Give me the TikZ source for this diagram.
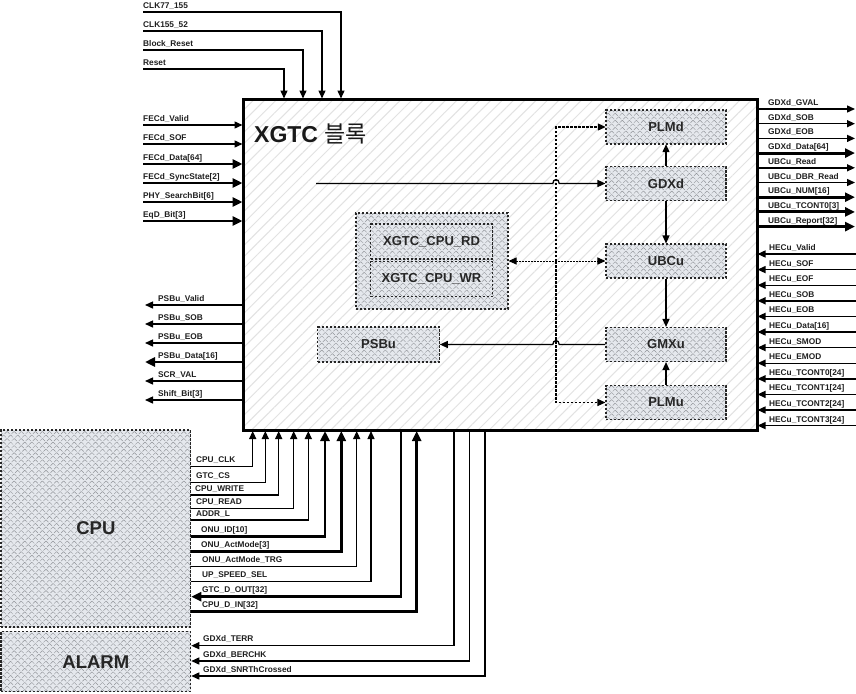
\documentclass[tikz,border=0pt]{standalone}
\usepackage{fontspec}
\setmainfont{Liberation Sans}
\newfontfamily\kr{Noto Sans CJK KR}
\usetikzlibrary{arrows.meta,patterns.meta,calc}
\definecolor{boxfill}{RGB}{229,232,237}
\definecolor{hatchc}{RGB}{145,148,153}
\definecolor{blkhatch}{RGB}{226,226,226}
\begin{document}
\begin{tikzpicture}[x=1pt,y=-1pt,
  sig/.style={line width=1.4pt,-{Triangle[length=8pt,width=7pt]}},
  bus/.style={line width=2.9pt,-{Triangle[length=10pt,width=9pt]}},
  lbl/.style={font=\fontsize{8.3}{9}\selectfont\bfseries,anchor=base west,inner sep=0pt,text=black!88},
  ubox/.style={draw=black!85,line width=1.1pt,dash pattern=on 2.4pt off 1.6pt,
    preaction={fill=boxfill},pattern={Hatch[angle=45,distance=5pt,line width=0.45pt]},
    pattern color=hatchc,font=\fontsize{13}{15}\selectfont\bfseries,text=black!85,inner sep=0pt},
  ia/.style={line width=1.3pt,-{Triangle[length=8pt,width=7pt]}},
  dl/.style={line width=1.1pt,dash pattern=on 2.5pt off 1.5pt,-{Triangle[length=8pt,width=7pt]}},
  dotl/.style={line width=1pt,dash pattern=on 1.5pt off 1.5pt,{Triangle[length=8pt,width=7pt]}-{Triangle[length=8pt,width=7pt]}}]
\useasboundingbox (0,0) rectangle (856,693);

% main block
\node[draw,line width=3pt,preaction={fill=white},
  pattern={Lines[angle=45,distance=8pt,line width=1pt]},pattern color=blkhatch,
  minimum width=514pt,minimum height=331.5pt,inner sep=0pt] (blk) at (500,264.75) {};
\node[anchor=west,font=\fontsize{23}{25}\selectfont\bfseries,text=black!90,inner sep=0pt] (title) at (254,134) {XGTC {\kr\mdseries 블록}};

% inner blocks
\node[ubox,minimum width=120pt,minimum height=34pt] (PLMd) at (666,127) {PLMd};
\node[ubox,minimum width=120pt,minimum height=34pt] (GDXd) at (666,183.5) {GDXd};
\node[ubox,minimum width=120pt,minimum height=34pt] (UBCu) at (666,261) {UBCu};
\node[ubox,minimum width=120pt,minimum height=34pt] (GMXu) at (666,344.5) {GMXu};
\node[ubox,minimum width=120pt,minimum height=34pt] (PLMu) at (666,402.5) {PLMu};
\node[ubox,minimum width=121.6pt,minimum height=35pt] (PSBu) at (378.5,344.5) {PSBu};
\node[ubox,minimum width=152pt,minimum height=96pt] (grp) at (432,261) {};
\node[ubox,minimum width=121.6pt,minimum height=35pt] (RD) at (431.5,241.5) {XGTC\_CPU\_RD};
\node[ubox,minimum width=121.6pt,minimum height=35pt] (WR) at (431.5,279.2) {XGTC\_CPU\_WR};

% inner connectors
\coordinate (vj) at (556,261);
\coordinate (gin) at (316,183.5);
\draw[dl] (vj) |- (PLMd);
\draw[dl] (vj) |- (PLMu);
\draw[dotl] (grp) -- (UBCu);
\draw[ia] (gin) -- (552.8,183.5) .. controls (552.8,178.3) and (559.2,178.3) .. (559.2,183.5) -- (GDXd);
\draw[ia] (GMXu) -- (559.2,344.5) .. controls (559.2,339.3) and (552.8,339.3) .. (552.8,344.5) -- (PSBu);
\draw[ia] (GDXd) -- (PLMd);
\draw[ia] (GDXd) -- (UBCu);
\draw[ia] (UBCu) -- (GMXu);
\draw[ia] (PLMu) -- (GMXu);

% top inputs
\foreach \n/\y/\x/\t in {a/12/341/CLK77\_155,b/31/322/CLK155\_52,c/50/303/Block\_Reset,d/69/284/Reset}{
  \coordinate (top\n) at (143,\y);
  \node[lbl] (toplbl\n) at (143,\y-3.5) {\t};
  \draw[sig] (top\n) -| (blk.north -| \x,0);
}

% left inputs
\foreach \n/\y/\st/\t in {a/125/sig/FECd\_Valid,b/144/sig/FECd\_SOF,c/164/bus/FECd\_Data[64],
  d/183/bus/FECd\_SyncState[2],e/202/bus/PHY\_SearchBit[6],f/221/bus/EqD\_Bit[3]}{
  \coordinate (fin\n) at (143,\y);
  \node[lbl] (finlbl\n) at (143,\y-4) {\t};
  \draw[\st] (fin\n) -- (blk.west |- fin\n);
}

% left outputs
\foreach \n/\y/\st/\t in {a/305/sig/PSBu\_Valid,b/324/sig/PSBu\_SOB,c/343/sig/PSBu\_EOB,
  d/362/bus/PSBu\_Data[16],e/381/sig/SCR\_VAL,f/400/sig/Shift\_Bit[3]}{
  \coordinate (pso\n) at (145,\y);
  \node[lbl] (psolbl\n) at (158,\y-3.5) {\t};
  \draw[\st] (blk.west |- pso\n) -- (pso\n);
}

% right outputs
\foreach \n/\y/\st/\t in {a/109/sig/GDXd\_GVAL,b/123.7/sig/GDXd\_SOB,c/138.4/sig/GDXd\_EOB,
  d/153.1/bus/GDXd\_Data[64],e/167.8/sig/UBCu\_Read,f/182.5/sig/UBCu\_DBR\_Read,
  g/197.2/bus/UBCu\_NUM[16],h/211.9/bus/UBCu\_TCONT0[3],i/226.6/bus/UBCu\_Report[32]}{
  \coordinate (gdo\n) at (855,\y);
  \node[lbl] (gdolbl\n) at (768,\y-3.5) {\t};
  \draw[\st] (blk.east |- gdo\n) -- (gdo\n);
}

% right inputs
\foreach \n/\y/\t in {a/254/HECu\_Valid,b/269.6/HECu\_SOF,c/285.2/HECu\_EOF,d/300.8/HECu\_SOB,
  e/316.4/HECu\_EOB,f/332/HECu\_Data[16],g/347.6/HECu\_SMOD,h/363.2/HECu\_EMOD,
  i/378.8/HECu\_TCONT0[24],j/394.4/HECu\_TCONT1[24],k/410/HECu\_TCONT2[24],l/425.6/HECu\_TCONT3[24]}{
  \coordinate (hei\n) at (856,\y);
  \node[lbl] (heilbl\n) at (769,\y-3.5) {\t};
  \draw[sig] (hei\n) -- (blk.east |- hei\n);
}

% CPU and ALARM
\node[ubox,minimum width=189.7pt,minimum height=197pt,font=\fontsize{18.5}{20}\selectfont\bfseries] (cpu) at (95.85,528.5) {CPU};
\node[ubox,minimum width=189.7pt,minimum height=60pt,font=\fontsize{18.5}{20}\selectfont\bfseries] (alarm) at (95.85,661.7) {ALARM};

\foreach \n/\y/\x/\st/\lx/\t in {a/466.7/252.7/sig/196/CPU\_CLK,b/482.7/265.3/sig/196/GTC\_CS,
  c/495/278.7/sig/195/CPU\_WRITE,d/508.3/293.7/sig/196/CPU\_READ,e/520/308.3/sig/196/ADDR\_L,
  f/536.7/325/bus/201/ONU\_ID[10],g/551.7/341.3/bus/201/ONU\_ActMode[3],
  h/566.7/356.7/sig/202/ONU\_ActMode\_TRG,i/581.7/371/sig/202/UP\_SPEED\_SEL,
  k/611.7/416.7/bus/202/CPU\_D\_IN[32]}{
  \node[lbl] (cpulbl\n) at (\lx,\y-4) {\t};
  \draw[\st] (cpu.east |- 0,\y) -| (blk.south -| \x,0);
}
\node[lbl] (cpulblj) at (202,596.7-4.5) {GTC\_D\_OUT[32]};
\draw[bus] (blk.south -| 401,0) |- (cpu.east |- 0,596.7);

\foreach \n/\y/\x/\t in {a/645.7/454/GDXd\_TERR,b/661/469.3/GDXd\_BERCHK,c/676/485/GDXd\_SNRThCrossed}{
  \node[lbl] (allbl\n) at (203,\y-4) {\t};
  \draw[sig] (blk.south -| \x,0) |- (alarm.east |- 0,\y);
}
\end{tikzpicture}
\end{document}
